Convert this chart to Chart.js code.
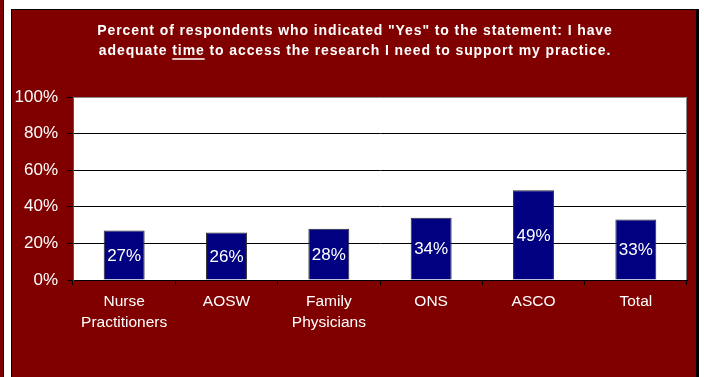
<!DOCTYPE html>
<html>
<head>
<meta charset="utf-8">
<script src="https://cdn.jsdelivr.net/npm/chart.js@4.4.1/dist/chart.umd.min.js"></script>
<style>
  html, body { margin: 0; padding: 0; background: #fff; width: 704px; height: 377px; overflow: hidden; }
  .prev { position: absolute; left: 0; top: 0; width: 3px; height: 377px; background: #800000; border-right: 1px solid #000; }
  .box { position: absolute; left: 11px; top: 9px; width: 684px; height: 380px; background: #800000;
         border: 1px solid #000; border-right: 3px solid #000; }
  canvas { display: block; }
</style>
</head>
<body>
<div class="prev"></div>
<div class="box"><canvas id="chartYes" width="684" height="367"></canvas></div>
<script>
var categories = [["Nurse", "Practitioners"], "AOSW", ["Family", "Physicians"], "ONS", "ASCO", "Total"];
var persenYa = [27, 26, 28, 34, 49, 33];
var judul = ['Percent of respondents who indicated "Yes" to the statement: I have',
             'adequate time to access the research I need to support my practice.'];
var kataGaris = "time";

var FONT = '"Liberation Sans", Arial, sans-serif';

// white plot area + grey frame
const latarPlot = {
  id: 'latarPlot',
  beforeDraw(chart) {
    const a = chart.chartArea, c = chart.ctx;
    c.save();
    c.fillStyle = '#fff';
    c.fillRect(a.left, a.top, a.right - a.left, a.bottom - a.top);
    c.restore();
  },
  afterDraw(chart) {
    const a = chart.chartArea, c = chart.ctx;
    c.save();
    c.strokeStyle = '#8a8a8a';
    c.lineWidth = 1;
    c.beginPath();
    c.moveTo(a.left, a.top + 0.5);
    c.lineTo(a.right - 0.5, a.top + 0.5);
    c.lineTo(a.right - 0.5, a.bottom);
    c.stroke();
    c.restore();
  }
};

// two-line bold title, one word underlined
const judulPlugin = {
  id: 'judulPlugin',
  afterDraw(chart) {
    const c = chart.ctx, cx = chart.width / 2 + 1;
    c.save();
    c.font = 'bold 14px ' + FONT;
    c.letterSpacing = '0.9px';
    c.fillStyle = '#fff';
    c.textAlign = 'left';
    c.textBaseline = 'alphabetic';
    judul.forEach(function (t, i) {
      const y = 25 + i * 20;
      const full = c.measureText(t).width;
      const x = cx - full / 2;
      c.fillText(t, x, y);
      const idx = t.indexOf(' ' + kataGaris + ' ');
      if (idx >= 0) {
        const x0 = x + c.measureText(t.slice(0, idx + 1)).width;
        const w = c.measureText(kataGaris).width;
        c.strokeStyle = '#fff';
        c.lineWidth = 1.5;
        c.beginPath();
        c.moveTo(x0, y + 4);
        c.lineTo(x0 + w, y + 4);
        c.stroke();
      }
    });
    c.restore();
  }
};

// value labels in the middle of each bar
const labelBatang = {
  id: 'labelBatang',
  afterDatasetsDraw(chart) {
    const c = chart.ctx, meta = chart.getDatasetMeta(0);
    c.save();
    c.font = '17px ' + FONT;
    c.fillStyle = '#fff';
    c.textAlign = 'center';
    c.textBaseline = 'middle';
    meta.data.forEach(function (bar, i) {
      c.fillText(persenYa[i] + '%', bar.x, (bar.y + bar.base) / 2 + 1);
    });
    c.restore();
  }
};

var ctx = document.getElementById('chartYes');

const dataYa = {
  labels: categories,
  datasets: [{
    data: persenYa,
    backgroundColor: '#000080',
    borderColor: '#2a2a2a',
    borderWidth: 1,
    barPercentage: 0.5,
    categoryPercentage: 0.8
  }]
};

const configYa = {
  type: 'bar',
  data: dataYa,
  options: {
    responsive: false,
    animation: false,
    events: [],
    layout: { padding: { top: 87, left: 0, right: 9, bottom: 0 } },
    plugins: { legend: { display: false }, title: { display: false }, tooltip: { enabled: false } },
    scales: {
      x: {
        afterFit(s) { s.height = 97; },
        grid: { drawOnChartArea: false, drawTicks: true, tickLength: 5, tickColor: '#000', offset: true },
        border: { color: '#000', width: 1 },
        ticks: { color: '#fff', font: { family: FONT, size: 15.5, lineHeight: 1.3 }, padding: 7, maxRotation: 0, autoSkip: false }
      },
      y: {
        min: 0, max: 100,
        afterFit(s) { s.width = 61; },
        grid: {
          color: function (c) { return c.tick.value === 100 ? 'rgba(0,0,0,0)' : '#000'; },
          tickColor: '#000', tickLength: 6, drawTicks: true
        },
        border: { color: '#555', width: 1 },
        ticks: { stepSize: 20, color: '#fff', padding: 9, font: { family: FONT, size: 17 },
                 callback: function (v) { return v + '%'; } }
      }
    }
  },
  plugins: [latarPlot, labelBatang, judulPlugin]
};

const chartYa = new Chart(ctx, configYa);
</script>
</body>
</html>
